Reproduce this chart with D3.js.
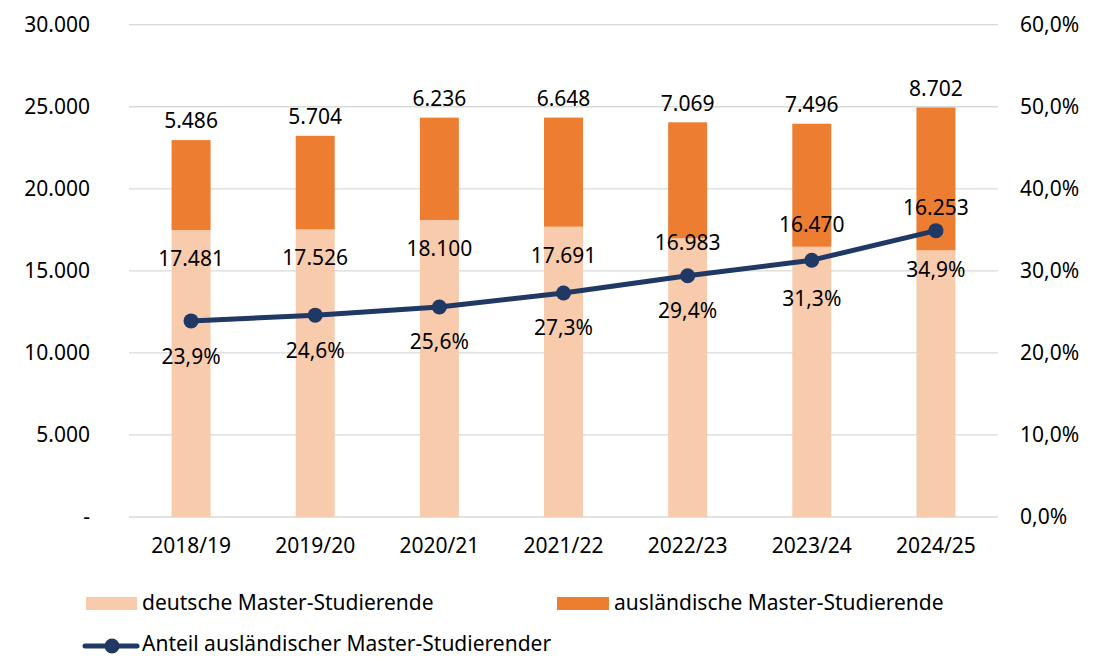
<!DOCTYPE html>
<html>
<head>
<meta charset="utf-8">
<script src="https://cdn.jsdelivr.net/npm/d3@7"></script>
<style>
  html, body { margin: 0; padding: 0; background: #fff; }
  svg { display: block; font-family: "Noto Sans", "Open Sans", sans-serif; }
</style>
</head>
<body>
<svg id="chart" width="1112" height="658"></svg>
<script>
const categories = ["2018/19", "2019/20", "2020/21", "2021/22", "2022/23", "2023/24", "2024/25"];
const german = [17481, 17526, 18100, 17691, 16983, 16470, 16253];
const foreign = [5486, 5704, 6236, 6648, 7069, 7496, 8702];
const share = [23.9, 24.6, 25.6, 27.3, 29.4, 31.3, 34.9];
const leftTicks = [0, 5000, 10000, 15000, 20000, 25000, 30000];
const rightTicks = [0, 10, 20, 30, 40, 50, 60];
const seriesNames = ["deutsche Master-Studierende", "ausländische Master-Studierende", "Anteil ausländischer Master-Studierender"];

// label placement tweaks (layout, pixels)
const germanLabelDy = [28.5, 28.5, 28.5, 28.5, 4, -22, -43];
const shareLabelDy = [35.5, 35.5, 35, 35, 35, 38, 39];

const colGerman = "#F8CBAD", colForeign = "#ED7D31", colLine = "#203864", colGrid = "#D9D9D9";
const fs = 21;

const de = d3.formatLocale({decimal: ",", thousands: ".", grouping: [3], currency: ["", "€"]});
const fmtN = de.format(",d");
const fmtP = v => de.format(".1f")(v) + "%";

const svg = d3.select("#chart");
const x0 = 129, x1 = 998, yTop = 24.7, yBot = 517;

const x = d3.scaleBand().domain(categories).range([x0, x1]).paddingInner(0).paddingOuter(0);
const y = d3.scaleLinear().domain([0, 30000]).range([yBot, yTop]);
const y2 = d3.scaleLinear().domain([0, 60]).range([yBot, yTop]);
const barW = x.bandwidth() * 0.314;
const cx = c => x(c) + x.bandwidth() / 2;

// gridlines
svg.append("g").selectAll("line").data(leftTicks).join("line")
  .attr("x1", x0).attr("x2", x1)
  .attr("y1", d => y(d)).attr("y2", d => y(d))
  .attr("stroke", colGrid).attr("stroke-width", 1.3);

// left axis
const la = svg.append("g").attr("transform", `translate(90,0)`)
  .call(d3.axisLeft(y).tickValues(leftTicks).tickSize(0).tickPadding(0)
    .tickFormat(d => d === 0 ? "-" : fmtN(d)));
la.select(".domain").remove();
la.selectAll("text").attr("font-size", fs).attr("font-family", "Noto Sans").attr("fill", "#000");

// right axis
const ra = svg.append("g").attr("transform", `translate(1020,0)`)
  .call(d3.axisRight(y2).tickValues(rightTicks).tickSize(0).tickPadding(0)
    .tickFormat(d => fmtP(d)));
ra.select(".domain").remove();
ra.selectAll("text").attr("font-size", fs).attr("font-family", "Noto Sans").attr("fill", "#000");

// x axis
const xa = svg.append("g").attr("transform", `translate(0,${yBot})`)
  .call(d3.axisBottom(x).tickSize(0).tickPadding(21));
xa.select(".domain").remove();
xa.selectAll("text").attr("font-size", fs).attr("font-family", "Noto Sans").attr("fill", "#000");

// bars
const rows = categories.map((c, i) => ({c, g: german[i], f: foreign[i], s: share[i], i}));
svg.append("g").selectAll("rect").data(rows).join("rect")
  .attr("x", d => cx(d.c) - barW / 2).attr("width", barW)
  .attr("y", d => y(d.g)).attr("height", d => y(0) - y(d.g))
  .attr("fill", colGerman);
svg.append("g").selectAll("rect").data(rows).join("rect")
  .attr("x", d => cx(d.c) - barW / 2).attr("width", barW)
  .attr("y", d => y(d.g + d.f)).attr("height", d => y(d.g) - y(d.g + d.f))
  .attr("fill", colForeign);

// line
const line = d3.line().x(d => cx(d.c)).y(d => y2(d.s));
svg.append("path").datum(rows).attr("d", line)
  .attr("fill", "none").attr("stroke", colLine).attr("stroke-width", 5).attr("stroke-linejoin", "round");
svg.append("g").selectAll("circle").data(rows).join("circle")
  .attr("cx", d => cx(d.c)).attr("cy", d => y2(d.s)).attr("r", 7.5).attr("fill", colLine);

// labels
const lab = svg.append("g").attr("font-size", fs).attr("text-anchor", "middle").attr("fill", "#000");
lab.selectAll("text.f").data(rows).join("text").attr("class", "f")
  .attr("x", d => cx(d.c)).attr("y", d => y(d.g + d.f) - 19).attr("dy", "0.35em")
  .text(d => fmtN(d.f));
lab.selectAll("text.g").data(rows).join("text").attr("class", "g")
  .attr("x", d => cx(d.c)).attr("y", d => y(d.g) + germanLabelDy[d.i]).attr("dy", "0.35em")
  .text(d => fmtN(d.g));
lab.selectAll("text.s").data(rows).join("text").attr("class", "s")
  .attr("x", d => cx(d.c)).attr("y", d => y2(d.s) + shareLabelDy[d.i]).attr("dy", "0.35em")
  .text(d => fmtP(d.s));

// legend
const lg = svg.append("g").attr("font-size", fs).attr("fill", "#000");
lg.append("rect").attr("x", 86).attr("y", 597).attr("width", 51).attr("height", 13).attr("fill", colGerman);
lg.append("text").attr("x", 142).attr("y", 603).attr("dy", "0.35em").text(seriesNames[0]);
lg.append("rect").attr("x", 557).attr("y", 597).attr("width", 52).attr("height", 13).attr("fill", colForeign);
lg.append("text").attr("x", 614).attr("y", 603).attr("dy", "0.35em").text(seriesNames[1]);
lg.append("line").attr("x1", 85).attr("x2", 137).attr("y1", 646).attr("y2", 646)
  .attr("stroke", colLine).attr("stroke-width", 5).attr("stroke-linecap", "round");
lg.append("circle").attr("cx", 112).attr("cy", 646).attr("r", 7.5).attr("fill", colLine);
lg.append("text").attr("x", 142).attr("y", 644).attr("dy", "0.35em").text(seriesNames[2]);
</script>
</body>
</html>
